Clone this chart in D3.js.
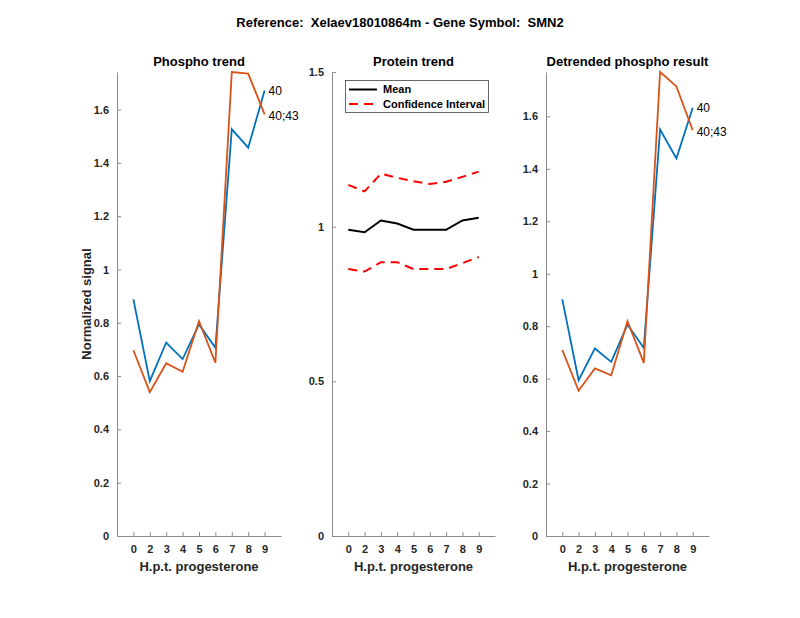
<!DOCTYPE html>
<html>
<head>
<meta charset="utf-8">
<script src="https://cdn.jsdelivr.net/npm/d3@7.9.0/dist/d3.min.js"></script>
<style>
  body { margin: 0; background: #fff; }
  svg { font-family: "Liberation Sans", Arial, sans-serif; }
  .tick text { fill: #262626; font-weight: bold; font-size: 11px; }
  .axis path, .axis line { stroke: #8c8c8c; }
</style>
</head>
<body>
<svg id="chart" width="800" height="618"></svg>
<script>
// timepoints (hours post treatment)
const timeLabels = ['0', '2', '3', '4', '5', '6', '7', '8', '9'];

// phospho trend, two peptides
const phosphoSite40 = [0.888, 0.581, 0.726, 0.664, 0.794, 0.706, 1.526, 1.457, 1.672];
const phosphoSite4043 = [0.697, 0.540, 0.648, 0.616, 0.806, 0.650, 1.741, 1.735, 1.582];

// protein trend
const proteinMean = [0.990, 0.982, 1.020, 1.010, 0.990, 0.990, 0.990, 1.020, 1.029];
const proteinUpper = [1.135, 1.114, 1.171, 1.158, 1.147, 1.138, 1.145, 1.161, 1.178];
const proteinLower = [0.863, 0.855, 0.885, 0.885, 0.863, 0.863, 0.863, 0.882, 0.902];

// detrended phospho
const detrended40 = [0.902, 0.594, 0.715, 0.664, 0.806, 0.717, 1.550, 1.439, 1.633];
const detrended4043 = [0.709, 0.554, 0.639, 0.613, 0.819, 0.660, 1.769, 1.714, 1.547];

const seriesNames = ['40', '40;43'];
const blue = '#0072BD';
const orange = '#D95319';
const ciDash = '9,6';

const svg = d3.select('#chart');
const plotTop = 72;
const plotBottom = 536;

svg.append('text')
  .attr('x', 400)
  .attr('y', 27)
  .attr('text-anchor', 'middle')
  .attr('font-size', 13)
  .attr('font-weight', 'bold')
  .attr('fill', '#000')
  .style('white-space', 'pre')
  .text('Reference:  Xelaev18010864m - Gene Symbol:  SMN2');

function drawPanel(left, right, yMax, yTicks, title) {
  const g = svg.append('g');
  const x = d3.scaleLinear().domain([0, 10]).range([left, right]);
  const y = d3.scaleLinear().domain([0, yMax]).range([plotBottom, plotTop]);

  const xAxis = d3.axisBottom(x)
    .tickValues(d3.range(1, 10))
    .tickFormat((d) => timeLabels[d - 1])
    .tickSizeInner(-4)
    .tickSizeOuter(0)
    .tickPadding(9);
  g.append('g')
    .attr('class', 'axis')
    .attr('transform', `translate(0,${plotBottom})`)
    .call(xAxis);

  const yAxis = d3.axisLeft(y)
    .tickValues(yTicks)
    .tickFormat((d) => String(d))
    .tickSizeInner(-4)
    .tickSizeOuter(0)
    .tickPadding(8);
  g.append('g')
    .attr('class', 'axis')
    .attr('transform', `translate(${left},0)`)
    .call(yAxis);

  g.append('text')
    .attr('x', (left + right) / 2)
    .attr('y', 66)
    .attr('text-anchor', 'middle')
    .attr('font-size', 13)
    .attr('font-weight', 'bold')
    .attr('fill', '#000')
    .text(title);

  g.append('text')
    .attr('x', (left + right) / 2)
    .attr('y', 571)
    .attr('text-anchor', 'middle')
    .attr('font-size', 13)
    .attr('font-weight', 'bold')
    .attr('fill', '#262626')
    .text('H.p.t. progesterone');

  return { g, x, y };
}

function lineOf(p) {
  return d3.line().x((d, i) => p.x(i + 1)).y((d) => p.y(d));
}

function drawPhospho(p, a, b) {
  const line = lineOf(p);
  [[a, blue], [b, orange]].forEach(([vals, color]) => {
    p.g.append('path')
      .attr('d', line(vals))
      .attr('fill', 'none')
      .attr('stroke', color)
      .attr('stroke-width', 1.8);
  });
  [a, b].forEach((vals, k) => {
    p.g.append('text')
      .attr('x', p.x(9) + 4)
      .attr('y', p.y(vals[8]) + (k === 0 ? 0 : 1.5))
      .attr('dy', '0.35em')
      .attr('font-size', 12)
      .attr('fill', '#000')
      .text(seriesNames[k]);
  });
}

// left panel
const phosphoTicks = [0, 0.2, 0.4, 0.6, 0.8, 1, 1.2, 1.4, 1.6];
const p1 = drawPanel(117, 281, d3.max(phosphoSite4043.concat(phosphoSite40)), phosphoTicks, 'Phospho trend');
drawPhospho(p1, phosphoSite40, phosphoSite4043);

svg.append('text')
  .attr('transform', 'translate(91,304) rotate(-90)')
  .attr('text-anchor', 'middle')
  .attr('font-size', 13)
  .attr('font-weight', 'bold')
  .attr('fill', '#262626')
  .text('Normalized signal');

// middle panel
const p2 = drawPanel(332, 495, 1.5, [0, 0.5, 1, 1.5], 'Protein trend');
const line2 = lineOf(p2);
[proteinUpper, proteinLower].forEach((vals) => {
  p2.g.append('path')
    .attr('d', line2(vals))
    .attr('fill', 'none')
    .attr('stroke', '#ff0000')
    .attr('stroke-width', 2)
    .attr('stroke-dasharray', ciDash);
});
p2.g.append('path')
  .attr('d', line2(proteinMean))
  .attr('fill', 'none')
  .attr('stroke', '#000')
  .attr('stroke-width', 2);

// legend
const legend = p2.g.append('g');
legend.append('rect')
  .attr('x', 345.5).attr('y', 80.5)
  .attr('width', 143).attr('height', 32)
  .attr('fill', '#fff')
  .attr('stroke', '#262626')
  .attr('stroke-width', 0.7);
const legendItems = [
  { label: 'Mean', color: '#000', dash: null },
  { label: 'Confidence Interval', color: '#ff0000', dash: ciDash }
];
legendItems.forEach((item, i) => {
  const yy = 89.5 + i * 14.5;
  legend.append('line')
    .attr('x1', 349).attr('x2', 377)
    .attr('y1', yy).attr('y2', yy)
    .attr('stroke', item.color)
    .attr('stroke-width', 2)
    .attr('stroke-dasharray', item.dash);
  legend.append('text')
    .attr('x', 383)
    .attr('y', yy)
    .attr('dy', '0.35em')
    .attr('font-size', 11)
    .attr('font-weight', 'bold')
    .attr('fill', '#000')
    .text(item.label);
});

// right panel
const p3 = drawPanel(546, 709, d3.max(detrended4043.concat(detrended40)), phosphoTicks, 'Detrended phospho result');
drawPhospho(p3, detrended40, detrended4043);
</script>
</body>
</html>
